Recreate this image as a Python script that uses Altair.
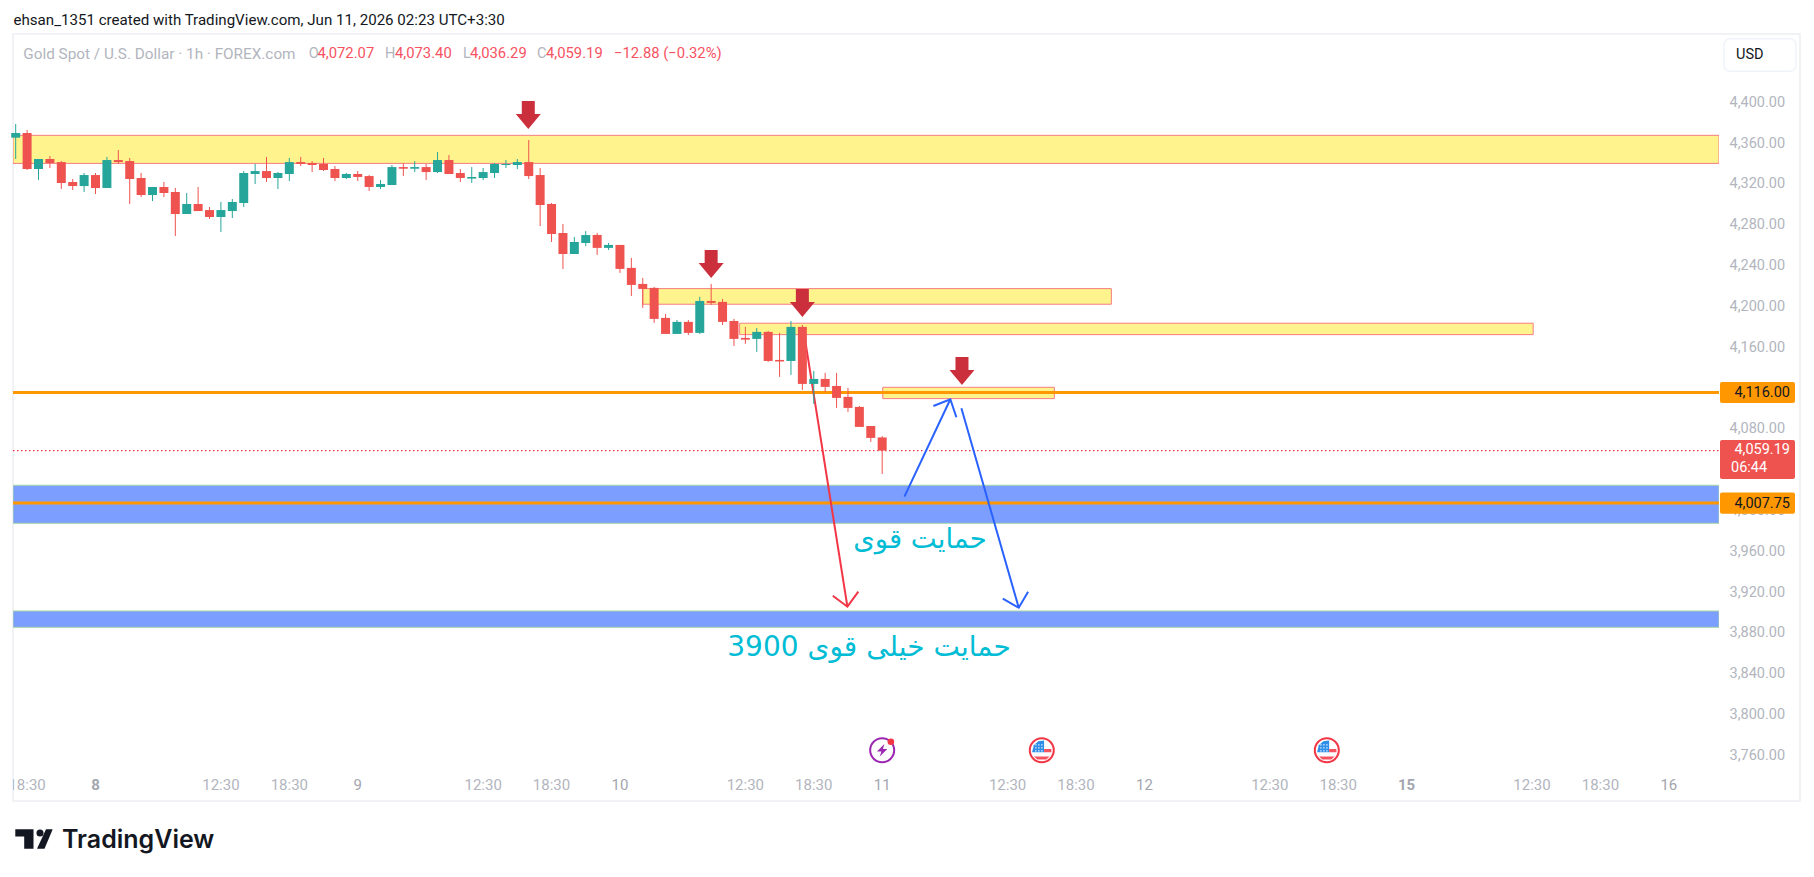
import altair as alt
import pandas as pd

# ---- candles: open, high, low, close (USD), 1h bars
opens = [4365.8,4370.4,4335.1,4344.9,4341.9,4322.4,4318.4,4329.2,4316.5,4343.9,4342.9,4326.3,4309.6,4317.5,4312.6,4291.0,4300.8,4294.9,4288.1,4293.9,4301.8,4330.2,4333.1,4326.3,4330.2,4341.9,4341.0,4340.0,4335.1,4326.3,4330.2,4328.2,4317.5,4319.4,4337.0,4335.4,4337.0,4332.1,4343.9,4331.2,4325.7,4326.3,4331.2,4339.0,4339.0,4341.9,4329.2,4300.8,4272.4,4251.8,4262.6,4270.5,4257.8,4260.7,4238.2,4222.5,4218.6,4189.2,4173.5,4185.3,4174.5,4205.8,4204.9,4186.2,4169.6,4168.6,4175.5,4148.0,4147.0,4180.4,4124.5,4129.4,4122.5,4111.8,4102.0,4083.3,4072.07]
highs = [4379.2,4373.3,4344.9,4347.8,4342.9,4325.3,4331.2,4331.2,4346.9,4353.7,4345.9,4331.2,4317.5,4322.4,4316.5,4311.6,4317.5,4297.9,4302.8,4305.7,4333.1,4340.0,4346.9,4332.1,4345.9,4346.9,4342.9,4345.9,4338.0,4331.2,4333.1,4329.2,4324.3,4339.0,4340.6,4342.9,4340.0,4351.7,4348.8,4335.1,4337.0,4336.1,4341.0,4343.9,4344.9,4363.5,4336.1,4301.8,4281.2,4268.5,4274.3,4272.5,4262.7,4260.7,4248.0,4228.4,4219.5,4193.1,4187.2,4187.2,4209.8,4222.5,4207.8,4188.2,4180.4,4179.4,4176.4,4174.5,4186.2,4182.3,4137.2,4135.3,4135.3,4120.6,4102.9,4083.3,4073.40]
lows = [4344.9,4334.1,4324.3,4336.1,4315.5,4314.5,4312.6,4310.6,4316.5,4340.0,4300.8,4307.7,4303.7,4307.7,4269.4,4291.0,4293.9,4286.1,4273.4,4287.1,4297.9,4320.4,4322.4,4315.5,4323.3,4338.0,4332.1,4333.1,4323.3,4325.3,4323.3,4313.5,4315.5,4319.4,4328.2,4332.1,4324.3,4331.2,4330.2,4322.4,4321.4,4324.3,4326.3,4336.1,4335.1,4325.3,4279.2,4263.6,4237.1,4251.8,4259.6,4250.9,4255.8,4233.3,4210.7,4199.0,4184.3,4173.5,4173.5,4172.5,4173.5,4201.9,4182.3,4161.7,4163.7,4155.9,4146.1,4131.4,4133.3,4118.6,4104.9,4116.7,4101.0,4097.1,4082.4,4067.7,4036.29]
closes = [4370.4,4335.1,4344.9,4341.0,4321.4,4318.4,4329.2,4316.5,4343.9,4341.9,4325.3,4309.6,4317.5,4311.6,4291.0,4300.8,4293.9,4288.1,4294.9,4302.8,4331.2,4333.1,4326.3,4331.2,4341.9,4340.0,4339.0,4334.1,4326.3,4330.2,4327.3,4317.5,4320.4,4337.0,4335.4,4337.0,4332.1,4343.9,4330.2,4326.3,4327.3,4332.1,4340.0,4340.0,4341.9,4328.2,4299.8,4271.4,4251.8,4263.6,4270.4,4257.8,4260.7,4237.2,4221.5,4217.6,4188.2,4173.5,4185.3,4174.5,4205.8,4203.9,4185.3,4168.6,4167.9,4175.5,4147.0,4146.5,4180.4,4124.5,4129.4,4121.6,4110.8,4101.0,4082.4,4071.6,4059.19]

# ---- drawings, in bar number and price
x_domain = [-0.237, 149.4]
y_domain = [3715.8, 4467.4]
yellow_start = [x_domain[0], 55.0, 63.5, 76.05]
yellow_end = [x_domain[1], 96.1, 133.1, 91.1]
yellow_top = [4368.1, 4217.9, 4184.0, 4121.2]
yellow_bottom = [4340.6, 4202.6, 4172.8, 4110.1]
blue_top = [4025.2, 3902.0]
blue_bottom = [3987.9, 3886.0]
orange_levels = [4116.00, 4007.75]
last_close = 4059.19
arrow_x = [44.96, 61.0, 69.0, 83.0]
arrow_y = [4388.0, 4242.0, 4203.8, 4137.2]
red_path_x = [69.1, 72.95]
red_path_y = [4177.4, 3906.2]
red_head_x = [71.67, 72.95, 73.91]
red_head_y = [3917.0, 3906.2, 3920.9]
blue_up_x = [77.95, 81.98]
blue_up_y = [4014.0, 4109.5]
blue_up_head_x = [80.49, 81.98, 82.51]
blue_up_head_y = [4102.9, 4109.5, 4091.8]
blue_down_x = [82.95, 87.98]
blue_down_y = [4100.6, 3905.2]
blue_down_head_x = [86.58, 87.98, 88.8]
blue_down_head_y = [3914.1, 3905.2, 3920.9]

# ---- axes (4,120 and 4,040 sit fully behind the price tags in the reference)
price_ticks = [3760, 3800, 3840, 3880, 3920, 3960, 4000, 4080, 4160, 4200, 4240, 4280, 4320, 4360, 4400]
time_bars = [1, 7, 18, 24, 30, 41, 47, 53, 64, 70, 76, 87, 93, 99, 110, 116, 122, 133, 139, 145]
time_labels = ["18:30", "8", "12:30", "18:30", "9", "12:30", "18:30", "10", "12:30", "18:30", "11",
               "12:30", "18:30", "12", "12:30", "18:30", "15", "12:30", "18:30", "16"]
time_kind = ["t", "w", "t", "t", "d", "t", "t", "d", "t", "t", "d", "t", "t", "d", "t", "t", "w", "t", "t", "d"]
event_power = [76]
event_flags = [90, 115]

GREEN, RED = "#26A69A", "#EF5350"
GREY = "#B2B5BE"
LEG_RED = "#F7525F"
BASE = "Roboto"
OX, OY = 13, 34  # plot origin on the page
W, H = 1706, 767

xs = alt.Scale(domain=x_domain, nice=False, zero=False, padding=0)
ys = alt.Scale(domain=y_domain, nice=False, zero=False, padding=0)
X = lambda f: alt.X(f, type="quantitative", scale=xs, axis=None)
Y = lambda f: alt.Y(f, type="quantitative", scale=ys, title=None)


def px(v):
    return alt.value(v - OX)


def py(v):
    return alt.value(v - OY)


def label(text, x, y, size=14, color=GREY, align="left", font=BASE, weight="normal"):
    return alt.Chart(pd.DataFrame({"a": [0]})).mark_text(
        align=align, baseline="middle", fontSize=size, color=color, font=font, fontWeight=weight
    ).encode(x=px(x), y=py(y), text=alt.value(text))


def box(x0, x1, y0, y1, fill=None, stroke=None, sw=1, r=0):
    kw = dict(cornerRadius=r) if r else {}
    kw.update(fill=fill or "#ffffff", fillOpacity=1 if fill else 0)
    if stroke:
        kw.update(stroke=stroke, strokeWidth=sw)
    return alt.Chart(pd.DataFrame({"a": [0]})).mark_rect(**kw).encode(
        x=px(x0), x2=px(x1), y=py(y0), y2=py(y1))


candles = pd.DataFrame({"bar": range(len(opens)), "o": opens, "h": highs, "l": lows, "c": closes})
candles["dir"] = ["up" if c >= o else "down" for o, c in zip(opens, closes)]
color = alt.Color("dir:N", scale=alt.Scale(domain=["up", "down"], range=[GREEN, RED]), legend=None)

y_axis = alt.Axis(orient="right", values=price_ticks, format=",.2f", grid=False, domain=False, ticks=False,
                  labelColor=GREY, labelFont=BASE, labelFontSize=14.5, labelPadding=10, labelOverlap=False,
                  labelFlush=False, labelOffset=-0.5, zindex=0)

base_layer = alt.Chart(pd.DataFrame({"p": price_ticks, "b": [0.0] * len(price_ticks)})).mark_point(opacity=0).encode(
    x=X("b"), y=alt.Y("p:Q", scale=ys, title=None, axis=y_axis))

yellow = alt.Chart(pd.DataFrame({"a": yellow_start, "b": yellow_end, "t": yellow_top, "d": yellow_bottom})).mark_rect(
    fill="#FFF38D", stroke="#F77C80", strokeWidth=1, clip=True).encode(x=X("a"), x2="b", y=Y("t"), y2="d")
blue = alt.Chart(pd.DataFrame({"a": [x_domain[0]] * 2, "b": [x_domain[1]] * 2, "t": blue_top, "d": blue_bottom})).mark_rect(
    fill="#7C9EFF", stroke="#A5D6A7", strokeWidth=1, clip=True).encode(x=X("a"), x2="b", y=Y("t"), y2="d")
orange = alt.Chart(pd.DataFrame({"p": orange_levels, "a": [x_domain[0]] * 2, "b": [x_domain[1]] * 2})).mark_rule(
    color="#FF9800", strokeWidth=3).encode(x=X("a"), x2="b", y=Y("p"))
dotted = alt.Chart(pd.DataFrame({"p": [last_close], "a": [x_domain[0]], "b": [x_domain[1]]})).mark_rule(
    color="#F23645", strokeWidth=1.2, strokeDash=[1.5, 2.5]).encode(x=X("a"), x2="b", y=Y("p"))


def polyline(xv, yv, col, sw=2):
    d = pd.DataFrame({"x": xv, "y": yv, "k": range(len(xv))})
    return alt.Chart(d).mark_line(color=col, strokeWidth=sw, clip=True).encode(
        x=X("x"), y=Y("y"), order=alt.Order("k:Q"))


lines = [
    polyline(red_path_x, red_path_y, "#F23645"),
    polyline(red_head_x, red_head_y, "#F23645"),
    polyline(blue_up_x, blue_up_y, "#2962FF"),
    polyline(blue_up_head_x, blue_up_head_y, "#2962FF"),
    polyline(blue_down_x, blue_down_y, "#2962FF"),
    polyline(blue_down_head_x, blue_down_head_y, "#2962FF"),
]

wicks = alt.Chart(candles).mark_rule(strokeWidth=1).encode(x=X("bar"), y=Y("h"), y2="l", color=color)
bodies = alt.Chart(candles).mark_bar(size=9).encode(x=X("bar"), y=Y("o"), y2="c", color=color)

ARROW = "M-0.52,-1.12 L0.52,-1.12 L0.52,-0.08 L1,-0.08 L0,1.12 L-1,-0.08 L-0.52,-0.08 Z"
arrows = alt.Chart(pd.DataFrame({"x": arrow_x, "y": arrow_y})).mark_point(
    shape=ARROW, size=625, filled=True, color="#CC2F3C", opacity=1).encode(x=X("x"), y=Y("y"))

times = pd.DataFrame({"bar": time_bars, "t": time_labels, "k": time_kind})
time_text = []
for kind, weight, col in [("t", "normal", GREY), ("d", "normal", "#A3A6AF"), ("w", "bold", "#A3A6AF")]:
    time_text.append(alt.Chart(times[times.k == kind]).mark_text(
        font=BASE, fontSize=15, color=col, fontWeight=weight, baseline="middle", clip=True
    ).encode(x=X("bar"), y=py(785), text="t:N"))

# event icons along the bottom of the pane
ICON_Y = py(750.3)
BOLT = "M0.22,-0.62 L-0.52,0.12 L-0.08,0.12 L-0.24,0.62 L0.52,-0.12 L0.08,-0.12 Z"
power = [
    alt.Chart(pd.DataFrame({"x": event_power})).mark_point(shape="circle", size=576, filled=False, color="#9C27B0",
                                                           strokeWidth=2, opacity=1).encode(x=X("x"), y=ICON_Y),
    alt.Chart(pd.DataFrame({"x": event_power})).mark_point(shape=BOLT, size=400, filled=True, color="#9C27B0",
                                                           opacity=1).encode(x=X("x"), y=ICON_Y),
    alt.Chart(pd.DataFrame({"x": event_power})).mark_point(shape="circle", size=44, filled=True, color="#F23645",
                                                           opacity=1, xOffset=8.7, yOffset=-8.6).encode(x=X("x"), y=ICON_Y),
]
CANTON = "M-0.97,0.2 L0.23,0.2 L0.23,-0.97 L-0.35,-0.9 L-0.8,-0.5 Z"
STARS = " ".join(
    f"M{a:.2f},{b:.2f} h0.12 v0.12 h-0.12 Z"
    for a in (-0.65, -0.35, -0.05) for b in (-0.6, -0.3, 0.0)
)
STRIPE1 = "M0.23,-0.13 L0.95,-0.13 L0.97,0.2 L0.23,0.2 Z"
STRIPE2 = "M-0.78,0.63 L0.78,0.63 L0.45,0.92 L-0.45,0.92 Z"
flags = [
    alt.Chart(pd.DataFrame({"x": event_flags})).mark_point(shape="circle", size=576, filled=True, fill="#ffffff",
                                                           stroke="#F23645", strokeWidth=2, opacity=1).encode(x=X("x"), y=ICON_Y),
]
for shp, col in [(CANTON, "#2F8FE8"), (STARS, "#ffffff"), (STRIPE1, "#F7525F"), (STRIPE2, "#F7525F")]:
    flags.append(alt.Chart(pd.DataFrame({"x": event_flags})).mark_point(
        shape=shp, size=400, filled=True, color=col, opacity=1).encode(x=X("x"), y=ICON_Y))

# price tags
orange_tags = alt.Chart(pd.DataFrame({"t": [4126.3, 4018.0], "d": [4105.7, 3997.4]})).mark_rect(
    cornerRadius=2, color="#FF9800").encode(x=px(1720), x2=px(1795), y=Y("t"), y2="d")
red_tag = alt.Chart(pd.DataFrame({"t": [4069.6], "d": [4031.4]})).mark_rect(
    cornerRadius=2, color="#EF5350").encode(x=px(1720), x2=px(1795), y=Y("t"), y2="d")

TV = "M-1.87,-0.97 L-0.05,-0.97 L-0.05,0.97 L-0.98,0.97 L-0.98,-0.24 L-1.87,-0.24 Z"
SLASH = "M1.2,-0.97 L1.87,-0.97 L1.05,0.97 L0.3,0.97 Z"
logo = [
    alt.Chart(pd.DataFrame({"a": [0]})).mark_point(shape=TV, size=400, filled=True, color="#131722", opacity=1).encode(x=px(34), y=py(839)),
    alt.Chart(pd.DataFrame({"a": [0]})).mark_point(shape=SLASH, size=400, filled=True, color="#131722", opacity=1).encode(x=px(34), y=py(839)),
    alt.Chart(pd.DataFrame({"a": [0]})).mark_point(shape="circle", size=50, filled=True, color="#131722", opacity=1).encode(x=px(40), y=py(833)),
]

texts = [
    label("ehsan_1351 created with TradingView.com, Jun 11, 2026 02:23 UTC+3:30", 13.5, 20, size=15.1, color="#131722"),
    label("Gold Spot / U.S. Dollar \u00b7 1h \u00b7 FOREX.com", 23.3, 54, size=15.3),
    label("O", 308.8, 54, size=14.5), label("4,072.07", 317.5, 54, size=14.8, color=LEG_RED),
    label("H", 385, 54, size=14.5), label("4,073.40", 395, 54, size=14.8, color=LEG_RED),
    label("L", 463, 54, size=14.5), label("4,036.29", 470, 54, size=14.8, color=LEG_RED),
    label("C", 537, 54, size=14.5), label("4,059.19", 546, 54, size=14.8, color=LEG_RED),
    label("\u221212.88 (\u22120.32%)", 614, 54, size=14.8, color=LEG_RED),
    label("USD", 1736, 55, size=14.5, color="#131722"),
    label("4,116.00", 1790, 392.5, size=14.5, color="#131722", align="right"),
    label("4,059.19", 1790, 449.5, size=14.5, color="#ffffff", align="right"),
    label("06:44", 1731, 467.5, size=14.5, color="#ffffff"),
    label("4,007.75", 1790, 503.5, size=14.5, color="#131722", align="right"),
    label("\u062d\u0645\u0627\u06cc\u062a \u0642\u0648\u06cc", 920, 540, size=27.5, color="#00BCD4", align="center", font="DejaVu Sans"),
    label("3900 \u062d\u0645\u0627\u06cc\u062a \u062e\u06cc\u0644\u06cc \u0642\u0648\u06cc", 869, 648, size=28, color="#00BCD4", align="center", font="DejaVu Sans"),
    label("TradingView", 62, 839.5, size=25, color="#131722", font="Inter", weight=600),
]

frame = [
    box(13, 1800, 34, 801, stroke="#F1F2F5", sw=2),
    box(1724, 1796, 38.7, 71.3, stroke="#F0F3FA", sw=1.5, r=6),
]

chart = alt.layer(
    base_layer, *frame, yellow, blue, orange, dotted, *lines, wicks, bodies, arrows, *time_text,
    *power, *flags, orange_tags, red_tag, *logo, *texts
).properties(
    width=W, height=H,
    padding={"left": OX - 8, "top": OY - 8, "right": 1798 - W - (OX - 8), "bottom": 861 - H - (OY - 8)},
    autosize=alt.AutoSizeParams(type="none"),
).configure_view(stroke=None)

chart.save("out.html", embed_options={"renderer": "svg", "actions": False})
